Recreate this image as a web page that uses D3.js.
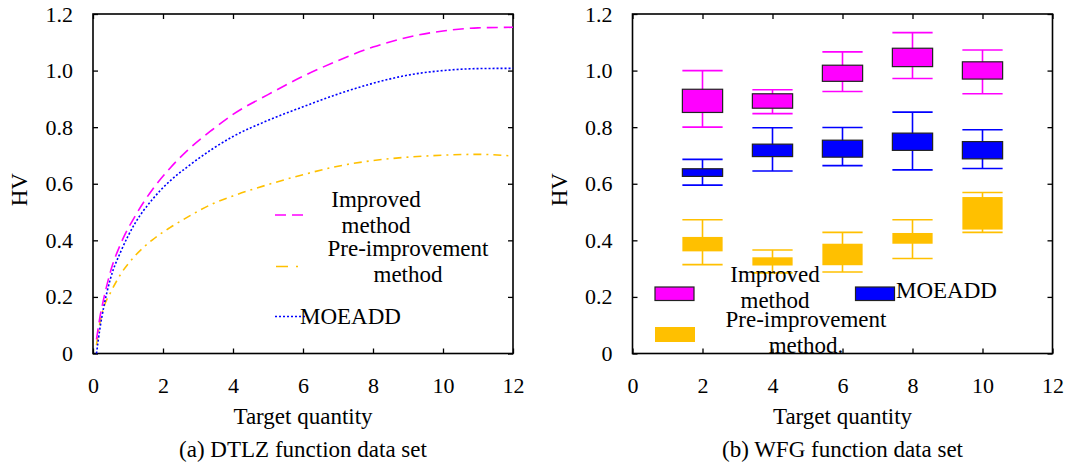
<!DOCTYPE html>
<html>
<head>
<meta charset="utf-8">
<script src="https://cdn.jsdelivr.net/npm/d3@7"></script>
<style>
  body { margin: 0; background: #fff; }
  svg text { font-family: "Liberation Serif", "Times New Roman", serif; fill: #000; }
</style>
</head>
<body>
<svg id="chart"></svg>
<script>
// axis ticks
const xTicks = [0, 2, 4, 6, 8, 10, 12];
const yTicks = [0, 0.2, 0.4, 0.6, 0.8, 1.0, 1.2];
const yTickLabels = ['0', '0.2', '0.4', '0.6', '0.8', '1.0', '1.2'];

// (a) DTLZ curves
const lineX = [0.1, 0.2, 0.3, 0.5, 0.8, 1.2, 1.7, 2.2, 2.7, 3.4, 4, 5, 6, 7, 8, 9, 10, 11, 12];
const improvedLine = [0.05, 0.13, 0.19, 0.29, 0.39, 0.485, 0.58, 0.655, 0.718, 0.79, 0.845, 0.915, 0.98, 1.035, 1.083, 1.118, 1.14, 1.151, 1.153];
const moeaddLine = [0.0, 0.09, 0.16, 0.265, 0.362, 0.46, 0.545, 0.61, 0.66, 0.722, 0.767, 0.824, 0.872, 0.917, 0.955, 0.984, 1.0, 1.007, 1.008];
const preLine = [0.03, 0.11, 0.16, 0.215, 0.282, 0.345, 0.402, 0.445, 0.482, 0.528, 0.557, 0.597, 0.632, 0.662, 0.682, 0.694, 0.701, 0.704, 0.698];

// (b) WFG boxes: whisker low, box low, box high, whisker high
const boxCats = [2, 4, 6, 8, 10];
const improvedLo = [0.80, 0.848, 0.926, 0.972, 0.918];
const improvedQ1 = [0.852, 0.867, 0.962, 1.014, 0.970];
const improvedQ3 = [0.934, 0.918, 1.019, 1.079, 1.031];
const improvedHi = [1.0, 0.932, 1.066, 1.134, 1.073];
const moeaddLo = [0.595, 0.645, 0.664, 0.649, 0.654];
const moeaddQ1 = [0.626, 0.696, 0.694, 0.718, 0.688];
const moeaddQ3 = [0.653, 0.740, 0.754, 0.779, 0.749];
const moeaddHi = [0.686, 0.798, 0.799, 0.853, 0.791];
const preLo = [0.314, 0.285, 0.288, 0.336, 0.428];
const preQ1 = [0.361, 0.311, 0.312, 0.388, 0.438];
const preQ3 = [0.412, 0.340, 0.388, 0.426, 0.553];
const preHi = [0.473, 0.366, 0.428, 0.473, 0.569];

const MAGENTA = '#ff00ff', BLUE = '#0000ff', ORANGE = '#ffc000';

const W = 1070, H = 465;
const svg = d3.select('#chart').attr('width', W).attr('height', H);
svg.append('rect').attr('width', W).attr('height', H).attr('fill', '#fff');

const plotTop = 14, plotBottom = 353.5, pw = 420;

function panel(left, title, xlabel) {
  const x = d3.scaleLinear().domain([0, 12]).range([left, left + pw]);
  const y = d3.scaleLinear().domain([0, 1.2]).range([plotBottom, plotTop]);
  const g = svg.append('g');

  const xb = g.append('g').attr('transform', `translate(0,${plotBottom})`)
    .call(d3.axisBottom(x).tickValues(xTicks).tickSizeInner(-5).tickSizeOuter(0).tickPadding(24));
  const xt = g.append('g').attr('transform', `translate(0,${plotTop})`)
    .call(d3.axisTop(x).tickValues(xTicks).tickSizeInner(-5).tickSizeOuter(0).tickFormat(''));
  const yl = g.append('g').attr('transform', `translate(${left},0)`)
    .call(d3.axisLeft(y).tickValues(yTicks).tickSizeInner(-5).tickSizeOuter(0).tickPadding(20)
      .tickFormat((d, i) => yTickLabels[i]));
  const yr = g.append('g').attr('transform', `translate(${left + pw},0)`)
    .call(d3.axisRight(y).tickValues(yTicks).tickSizeInner(-5).tickSizeOuter(0).tickFormat(''));
  [xb, xt, yl, yr].forEach(a => {
    a.select('.domain').remove();
    a.selectAll('line').attr('stroke', '#000').attr('stroke-width', 1.3);
    a.selectAll('text').style('font-size', '22px').style('font-family', '"Liberation Serif", "Times New Roman", serif');
  });

  g.append('rect').attr('x', left).attr('y', plotTop).attr('width', pw).attr('height', plotBottom - plotTop)
    .attr('fill', 'none').attr('stroke', '#000').attr('stroke-width', 1.6);

  g.append('text').attr('x', left + pw / 2).attr('y', 424).attr('text-anchor', 'middle')
    .style('font-size', '23px').text(xlabel);
  g.append('text').attr('x', left + pw / 2).attr('y', 457).attr('text-anchor', 'middle')
    .style('font-size', '23px').text(title);
  g.append('text').attr('transform', `translate(${left - 66},${(plotTop + plotBottom) / 2 + 6}) rotate(-90)`)
    .attr('text-anchor', 'middle').style('font-size', '23px').text('HV');
  return { x, y, g };
}

// ---------- (a) ----------
const A = panel(93, '(a) DTLZ function data set', 'Target quantity');
const line = d3.line().x(d => A.x(d[0])).y(d => A.y(d[1])).curve(d3.curveMonotoneX);
const series = [
  { vals: preLine, color: ORANGE, dash: '8,5,2,5' },
  { vals: moeaddLine, color: BLUE, dash: '2,2' },
  { vals: improvedLine, color: MAGENTA, dash: '11,6' }
];
series.forEach(s => {
  A.g.append('path').datum(lineX.map((v, i) => [v, s.vals[i]]))
    .attr('d', line).attr('fill', 'none').attr('stroke', s.color)
    .attr('stroke-width', 1.6).attr('stroke-dasharray', s.dash);
});

// legend (a)
const la = A.g.append('g');
la.append('line').attr('x1', 275).attr('x2', 306).attr('y1', 215).attr('y2', 215)
  .attr('stroke', MAGENTA).attr('stroke-width', 1.6).attr('stroke-dasharray', '11,6');
la.append('line').attr('x1', 276).attr('x2', 300).attr('y1', 266.5).attr('y2', 266.5)
  .attr('stroke', ORANGE).attr('stroke-width', 1.6).attr('stroke-dasharray', '12,8,2,5');
la.append('line').attr('x1', 275).attr('x2', 307).attr('y1', 316.5).attr('y2', 316.5)
  .attr('stroke', BLUE).attr('stroke-width', 1.6).attr('stroke-dasharray', '2,2');
[['Improved', 376, 207], ['method', 376, 233], ['Pre-improvement', 408, 256], ['method', 408, 282]]
  .forEach(t => la.append('text').attr('x', t[1]).attr('y', t[2]).attr('text-anchor', 'middle')
    .style('font-size', '23px').text(t[0]));
la.append('text').attr('x', 300).attr('y', 324).style('font-size', '23px').text('MOEADD');

// ---------- (b) ----------
const B = panel(632.5, '(b) WFG function data set', 'Target quantity');
const boxW = 1.15;
function drawBoxes(lo, q1, q3, hi, color, outline) {
  const gg = B.g.append('g');
  boxCats.forEach((c, i) => {
    const x0 = B.x(c - boxW / 2), x1 = B.x(c + boxW / 2), xc = B.x(c);
    gg.append('line').attr('x1', xc).attr('x2', xc).attr('y1', B.y(lo[i])).attr('y2', B.y(hi[i]))
      .attr('stroke', color).attr('stroke-width', 1.6);
    [lo[i], hi[i]].forEach(v => gg.append('line').attr('x1', x0).attr('x2', x1)
      .attr('y1', B.y(v)).attr('y2', B.y(v)).attr('stroke', color).attr('stroke-width', 1.6));
    gg.append('rect').attr('x', x0).attr('width', x1 - x0)
      .attr('y', B.y(q3[i])).attr('height', B.y(q1[i]) - B.y(q3[i]))
      .attr('fill', color).attr('stroke', outline || 'none').attr('stroke-width', 1.2);
  });
}
drawBoxes(preLo, preQ1, preQ3, preHi, ORANGE, null);
drawBoxes(moeaddLo, moeaddQ1, moeaddQ3, moeaddHi, BLUE, '#222');
drawBoxes(improvedLo, improvedQ1, improvedQ3, improvedHi, MAGENTA, '#222');

// legend (b)
const lb = B.g.append('g');
lb.append('rect').attr('x', 655).attr('y', 287).attr('width', 39).attr('height', 13.5)
  .attr('fill', MAGENTA).attr('stroke', '#222').attr('stroke-width', 1.2);
lb.append('rect').attr('x', 855.5).attr('y', 287).attr('width', 39).attr('height', 13.5)
  .attr('fill', BLUE).attr('stroke', '#222').attr('stroke-width', 1.2);
lb.append('rect').attr('x', 655).attr('y', 327).attr('width', 40).attr('height', 15)
  .attr('fill', ORANGE);
[['Improved', 775, 282], ['method', 775, 308], ['Pre-improvement', 806, 327], ['method.', 806, 353]]
  .forEach(t => lb.append('text').attr('x', t[1]).attr('y', t[2]).attr('text-anchor', 'middle')
    .style('font-size', '23px').text(t[0]));
lb.append('text').attr('x', 896).attr('y', 298).style('font-size', '23px').text('MOEADD');
</script>
</body>
</html>
